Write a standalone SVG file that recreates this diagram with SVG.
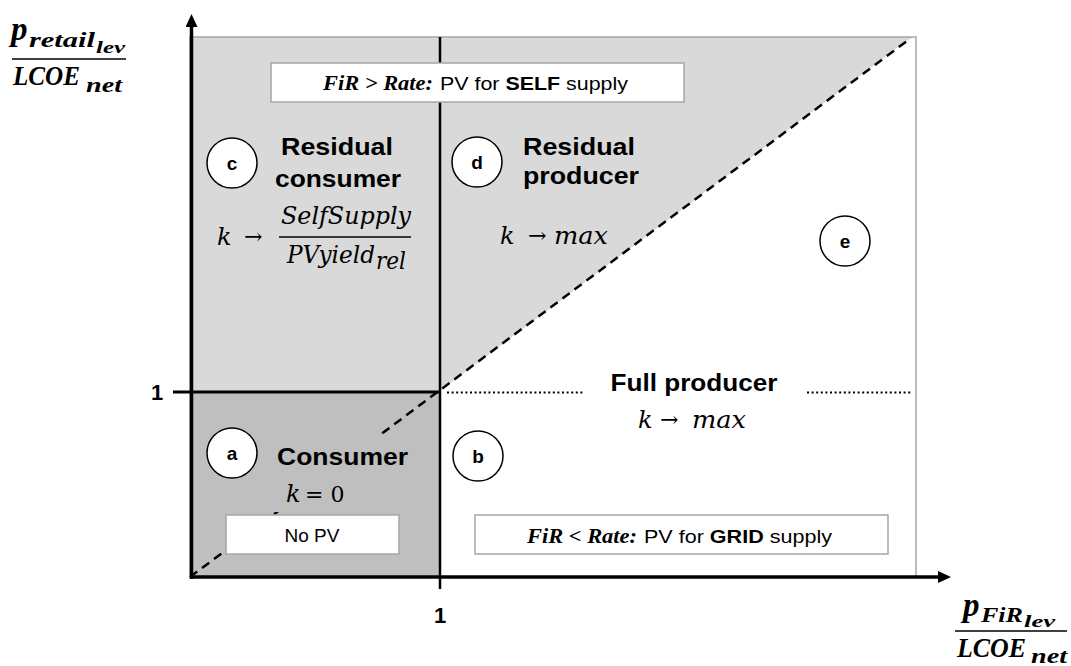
<svg xmlns="http://www.w3.org/2000/svg" width="1071" height="666" viewBox="0 0 1071 666">
  <style>
    .lbl { font-family: "Liberation Sans", Arial, sans-serif; font-weight: bold; font-size: 24px; fill: #000; }
    .tag { font-family: "Liberation Sans", Arial, sans-serif; font-weight: bold; font-size: 19px; text-anchor: middle; }
    .badge { fill: #fff; stroke: #000; stroke-width: 1.5; }
    .math { font-family: "DejaVu Serif", "Liberation Serif", serif; font-style: italic; font-size: 24px; }
    .op { font-family: "DejaVu Serif", "Liberation Serif", serif; font-style: normal; font-size: 22px; }
    .bm { font-family: "Liberation Serif", "DejaVu Serif", serif; font-style: italic; font-weight: bold; }
    .note { fill: #fff; stroke: #a6a6a6; stroke-width: 1.5; }
    .txt { font-family: "Liberation Sans", Arial, sans-serif; font-size: 19px; }
    .axis { stroke: #000; stroke-width: 3.5; fill: none; }
    .tick { font-family: "Liberation Sans", Arial, sans-serif; font-weight: bold; font-size: 22px; text-anchor: middle; }
  </style>
  <defs>
    <marker id="arrow" markerUnits="userSpaceOnUse" viewBox="0 -6 13 12" markerWidth="13" markerHeight="12" refX="0" refY="0" orient="auto">
      <path d="M0,-6 L13,0 L0,6 z" fill="#000"/>
    </marker>
  </defs>

  <!-- shaded regions -->
  <g id="regions">
    <rect x="190" y="37" width="726" height="540" fill="#fff"/>
    <rect x="190" y="37" width="250" height="355" fill="#d9d9d9"/>
    <rect x="190" y="392" width="250" height="185" fill="#bfbfbf"/>
    <polygon points="440,37 912,37 440,391" fill="#d9d9d9"/>
    <rect x="190" y="37" width="726" height="540" fill="none" stroke="#a6a6a6" stroke-width="1.5"/>
  </g>

  <!-- boundaries and axes -->
  <g id="connectors">
    <line x1="190" y1="577" x2="911" y2="38" stroke="#000" stroke-width="2.5" stroke-dasharray="9 6"/>
    <line x1="447" y1="392.5" x2="583" y2="392.5" stroke="#000" stroke-width="2" stroke-dasharray="2 2.6"/>
    <line x1="807" y1="392.5" x2="911" y2="392.5" stroke="#000" stroke-width="2" stroke-dasharray="2 2.6"/>
    <line x1="440" y1="37" x2="440" y2="589" stroke="#000" stroke-width="2.5"/>
    <line x1="173" y1="392" x2="440" y2="392" stroke="#000" stroke-width="3"/>
    <line class="axis" x1="191.5" y1="579" x2="191.5" y2="27" marker-end="url(#arrow)"/>
    <line class="axis" x1="190" y1="577" x2="938" y2="577" marker-end="url(#arrow)"/>
  </g>

  <!-- axis ticks -->
  <g id="ticks">
    <text class="tick" x="157" y="400">1</text>
    <text class="tick" x="440" y="623">1</text>
  </g>

  <!-- vertical axis title -->
  <g id="y-label">
    <text class="bm" x="11" y="40" font-size="33">p</text>
    <text class="bm" x="29" y="47" font-size="21" textLength="66" lengthAdjust="spacingAndGlyphs">retail</text>
    <text class="bm" x="96" y="53" font-size="16" textLength="29" lengthAdjust="spacingAndGlyphs">lev</text>
    <line x1="12" y1="59" x2="126" y2="59" stroke="#000" stroke-width="1.6"/>
    <text class="bm" x="13" y="85" font-size="28" textLength="67" lengthAdjust="spacingAndGlyphs">LCOE</text>
    <text class="bm" x="86" y="92" font-size="21" textLength="36" lengthAdjust="spacingAndGlyphs">net</text>
  </g>

  <!-- horizontal axis title -->
  <g id="x-label">
    <text class="bm" x="963" y="616" font-size="33">p</text>
    <text class="bm" x="981" y="622" font-size="20" textLength="42" lengthAdjust="spacingAndGlyphs">FiR</text>
    <text class="bm" x="1024" y="627" font-size="16" textLength="31" lengthAdjust="spacingAndGlyphs">lev</text>
    <line x1="955" y1="631" x2="1067" y2="631" stroke="#000" stroke-width="1.6"/>
    <text class="bm" x="957" y="657" font-size="28" textLength="69" lengthAdjust="spacingAndGlyphs">LCOE</text>
    <text class="bm" x="1031" y="663" font-size="21" textLength="36" lengthAdjust="spacingAndGlyphs">net</text>
  </g>

  <!-- upper note -->
  <g id="note-self">
    <rect class="note" x="271" y="63" width="413" height="39"/>
    <text class="bm" x="323" y="90" font-size="21" textLength="110" lengthAdjust="spacingAndGlyphs">FiR &gt; Rate:</text>
    <text class="txt" x="440" y="90" textLength="188" lengthAdjust="spacingAndGlyphs">PV for <tspan font-weight="bold">SELF</tspan> supply</text>
  </g>

  <!-- region c -->
  <g id="region-c">
    <circle class="badge" cx="232" cy="163" r="25"/>
    <text class="tag" x="232" y="170">c</text>
    <text class="lbl" x="337" y="155" text-anchor="middle" textLength="112" lengthAdjust="spacingAndGlyphs">Residual</text>
    <text class="lbl" x="338" y="187" text-anchor="middle" textLength="126" lengthAdjust="spacingAndGlyphs">consumer</text>
    <text class="math" x="217" y="245">k</text>
    <text class="op" x="244" y="244">→</text>
    <text class="math" x="281" y="224" textLength="130" lengthAdjust="spacingAndGlyphs">SelfSupply</text>
    <line x1="279" y1="237" x2="411" y2="237" stroke="#000" stroke-width="1.4"/>
    <text class="math" x="287" y="263" textLength="88" lengthAdjust="spacingAndGlyphs">PVyield</text>
    <text class="math" x="376" y="269" font-size="17" textLength="30" lengthAdjust="spacingAndGlyphs">rel</text>
  </g>

  <!-- region d -->
  <g id="region-d">
    <circle class="badge" cx="477" cy="162" r="25"/>
    <text class="tag" x="477" y="169">d</text>
    <text class="lbl" x="523" y="155" textLength="112" lengthAdjust="spacingAndGlyphs">Residual</text>
    <text class="lbl" x="523" y="184" textLength="116" lengthAdjust="spacingAndGlyphs">producer</text>
    <text class="math" x="500" y="244">k</text>
    <text class="op" x="528" y="243">→</text>
    <text class="math" x="554" y="244" textLength="54" lengthAdjust="spacingAndGlyphs">max</text>
  </g>

  <!-- region e -->
  <g id="region-e">
    <circle class="badge" cx="845" cy="241" r="25"/>
    <text class="tag" x="845" y="248">e</text>
  </g>

  <!-- region a -->
  <g id="region-a">
    <rect x="256" y="434" width="168" height="78" fill="#bfbfbf"/>
    <circle class="badge" cx="232" cy="453" r="25"/>
    <text class="tag" x="232" y="460">a</text>
    <text class="lbl" x="277" y="465" textLength="131" lengthAdjust="spacingAndGlyphs">Consumer</text>
    <text class="math" x="286" y="502">k</text>
    <text class="op" x="305" y="502" font-size="24">= 0</text>
    <rect class="note" x="226" y="515" width="173" height="39"/>
    <text class="txt" x="312" y="542" text-anchor="middle">No PV</text>
  </g>

  <!-- region b -->
  <g id="region-b">
    <circle class="badge" cx="478" cy="456" r="25"/>
    <text class="tag" x="478" y="463">b</text>
    <text class="lbl" x="694" y="391" text-anchor="middle" textLength="167" lengthAdjust="spacingAndGlyphs">Full producer</text>
    <text class="math" x="638" y="428">k</text>
    <text class="op" x="660" y="427">→</text>
    <text class="math" x="692" y="428" textLength="54" lengthAdjust="spacingAndGlyphs">max</text>
  </g>

  <!-- lower note -->
  <g id="note-grid">
    <rect class="note" x="475" y="515" width="413" height="39"/>
    <text class="bm" x="527" y="543" font-size="21" textLength="110" lengthAdjust="spacingAndGlyphs">FiR &lt; Rate:</text>
    <text class="txt" x="644" y="543" textLength="188" lengthAdjust="spacingAndGlyphs">PV for <tspan font-weight="bold">GRID</tspan> supply</text>
  </g>
</svg>
